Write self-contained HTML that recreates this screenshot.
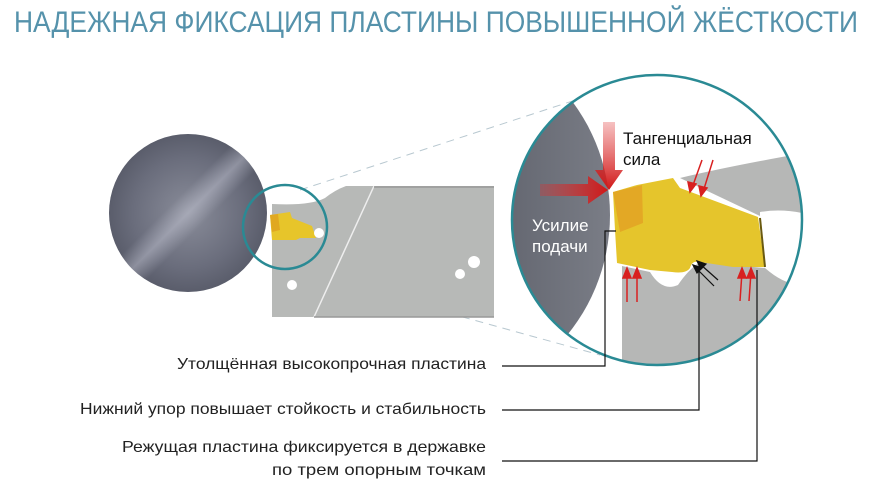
<!DOCTYPE html>
<html><head><meta charset="utf-8"><style>
html,body{margin:0;padding:0;background:#fff;}
svg{display:block;}
text{font-family:"Liberation Sans","DejaVu Sans",sans-serif;}
</style></head><body>
<svg width="872" height="491" viewBox="0 0 872 491" xmlns="http://www.w3.org/2000/svg">
<defs>
<radialGradient id="disk" cx="50%" cy="50%" r="50%">
<stop offset="0" stop-color="#8a8d9a"/><stop offset="0.7" stop-color="#6a6d7c"/><stop offset="1" stop-color="#5a5d6b"/>
</radialGradient>
<linearGradient id="sheen" x1="0" y1="0" x2="1" y2="1">
<stop offset="0" stop-color="#fff" stop-opacity="0"/><stop offset="0.42" stop-color="#c8cad8" stop-opacity="0"/><stop offset="0.5" stop-color="#c8cad8" stop-opacity="0.45"/><stop offset="0.58" stop-color="#c8cad8" stop-opacity="0"/><stop offset="1" stop-color="#fff" stop-opacity="0"/>
</linearGradient>
<linearGradient id="ydisk" x1="0" y1="0" x2="1" y2="0">
<stop offset="0" stop-color="#4a4d58"/><stop offset="0.7" stop-color="#62656f"/><stop offset="1" stop-color="#7a7d86"/>
</linearGradient>
<linearGradient id="arrH" x1="0" y1="0" x2="1" y2="0"><stop offset="0" stop-color="#e03030" stop-opacity="0.3"/><stop offset="1" stop-color="#d01818"/></linearGradient>
<linearGradient id="arrV" x1="0" y1="0" x2="0" y2="1"><stop offset="0" stop-color="#e03030" stop-opacity="0.3"/><stop offset="1" stop-color="#d01818"/></linearGradient>
<clipPath id="big"><circle cx="657" cy="220" r="145"/></clipPath>
</defs>

<text x="14" y="32" font-size="30" fill="#5592ab" textLength="844" lengthAdjust="spacingAndGlyphs">НАДЕЖНАЯ ФИКСАЦИЯ ПЛАСТИНЫ ПОВЫШЕННОЙ ЖЁСТКОСТИ</text>

<line x1="300" y1="190" x2="600" y2="92" stroke="#b8c8d0" stroke-width="1" stroke-dasharray="8,6"/>
<line x1="300" y1="272" x2="600" y2="355" stroke="#b8c8d0" stroke-width="1" stroke-dasharray="8,6"/>

<circle cx="188" cy="213" r="79" fill="url(#disk)"/>
<circle cx="188" cy="213" r="79" fill="url(#sheen)"/>

<path d="M272 204 L272 317 L494 317 L494 186 L346 186 Q335 190 325 198 Q310 206 272 204 Z" fill="#b7b9b7"/>
<line x1="374" y1="186" x2="314" y2="317" stroke="#eee" stroke-width="1.5"/>
<line x1="314" y1="317" x2="494" y2="317" stroke="#999" stroke-width="1.5"/>
<line x1="374" y1="187" x2="494" y2="187" stroke="#999" stroke-width="1.5"/>
<circle cx="292" cy="285" r="5" fill="#fff"/>
<circle cx="474" cy="262" r="6" fill="#fff"/>
<circle cx="460" cy="274" r="5" fill="#fff"/>
<path d="M270 215 L290 212 L292 218 L312 226 L316 238 L300 238 L296 240 L272 240 Z" fill="#e7c52a"/>
<path d="M270 215 L278 214 L280 230 L272 232 Z" fill="#e0a820"/>
<circle cx="319" cy="233" r="5" fill="#fff"/>
<circle cx="285" cy="227" r="42" fill="none" stroke="#2a8a94" stroke-width="2.5"/>

<g clip-path="url(#big)">
<rect x="500" y="70" width="320" height="310" fill="#fff"/>
<circle cx="420" cy="215" r="190" fill="url(#ydisk)"/>
<path d="M680 178 Q730 166 810 152 L810 215 Q785 208 760 212 L760 216 Z" fill="#b6b7b6"/>
<path d="M622 266 L650 272 Q662 292 678 285 Q688 270 700 262 L765 268 Q790 290 810 282 L810 380 L622 380 Z" fill="#b6b7b6"/>
</g>
<path d="M613 192 L637 185 L673 178 L680 188 L758 217 L765 267 L733 267 L700 262 Q692 260 690 268 Q686 274 672 272 L650 270 L617 263 L615 230 Z" fill="#e5c52c"/>
<path d="M613 192 L642 185 L643 223 L620 232 Z" fill="#e3a825"/>
<line x1="760" y1="218" x2="765" y2="267" stroke="#6a5a10" stroke-width="2"/>
<circle cx="657" cy="220" r="145" fill="none" stroke="#2a8a94" stroke-width="2.5"/>

<path d="M540 184 L588 184 L588 176 L608 190 L588 204 L588 196 L540 196 Z" fill="url(#arrH)"/>
<path d="M603 122 L615 122 L615 170 L623 170 L609 190 L595 170 L603 170 Z" fill="url(#arrV)"/>

<text x="623" y="144" font-size="17" fill="#111">Тангенциальная</text>
<text x="623" y="165" font-size="17" fill="#111">сила</text>
<text x="532" y="231" font-size="17" fill="#fff">Усилие</text>
<text x="532" y="252" font-size="17" fill="#fff">подачи</text>

<g stroke="#d82020" stroke-width="1.5" fill="#d82020">
<line x1="702" y1="160" x2="692" y2="188"/><path d="M690 192 L688 182 L696 184 Z"/>
<line x1="713" y1="160" x2="703" y2="192"/><path d="M701 196 L699 186 L707 188 Z"/>
<line x1="627" y1="302" x2="627" y2="272"/><path d="M627 268 L623 278 L631 278 Z"/>
<line x1="637" y1="302" x2="637" y2="272"/><path d="M637 268 L633 278 L641 278 Z"/>
<line x1="740" y1="301" x2="742" y2="272"/><path d="M742 268 L738 278 L746 278 Z"/>
<line x1="749" y1="301" x2="751" y2="272"/><path d="M751 268 L747 278 L755 278 Z"/>
</g>
<g stroke="#111" stroke-width="1.2" fill="#111">
<line x1="718" y1="280" x2="700" y2="264"/><path d="M697 261 L706 264 L701 269 Z"/>
<line x1="714" y1="286" x2="696" y2="268"/><path d="M693 265 L702 268 L697 273 Z"/>
</g>

<g stroke="#111" stroke-width="1.2" fill="none">
<polyline points="502,366 605,366 605,231 616,231"/>
<polyline points="502,410 699,410 699,262"/>
<polyline points="502,461 757,461 757,270"/>
</g>
<g font-size="16" fill="#222" text-anchor="end">
<text x="486" y="369" textLength="309" lengthAdjust="spacingAndGlyphs">Утолщённая высокопрочная пластина</text>
<text x="486" y="414" textLength="406" lengthAdjust="spacingAndGlyphs">Нижний упор повышает стойкость и стабильность</text>
<text x="486" y="452" textLength="364" lengthAdjust="spacingAndGlyphs">Режущая  пластина фиксируется  в державке</text>
<text x="486" y="475" textLength="214" lengthAdjust="spacingAndGlyphs">по трем опорным точкам</text>
</g>
</svg>
</body></html>
